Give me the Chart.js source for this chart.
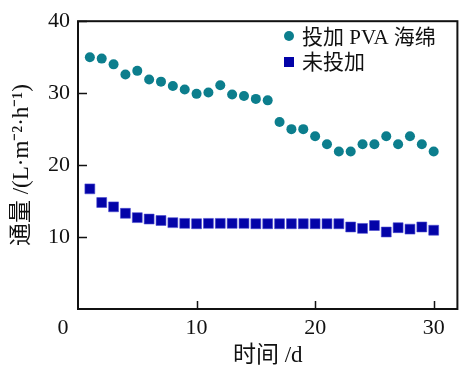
<!DOCTYPE html>
<html>
<head>
<meta charset="utf-8">
<script src="https://cdn.jsdelivr.net/npm/chart.js@4/dist/chart.umd.min.js"></script>
<style>
html,body{margin:0;padding:0;background:#fff;}
#wrap{width:465px;height:370px;position:relative;}
</style>
</head>
<body>
<div id="wrap"><canvas id="c"></canvas></div>
<script>
const days = [1,2,3,4,5,6,7,8,9,10,11,12,13,14,15,16,17,18,19,20,21,22,23,24,25,26,27,28,29,30];
const withPVA = [35.0,34.8,34.0,32.6,33.1,31.9,31.6,31.0,30.5,29.9,30.1,31.1,29.8,29.6,29.2,29.0,26.0,25.0,25.0,24.0,22.9,21.9,21.9,22.9,22.9,24.0,22.9,24.0,22.9,21.9];
const withoutPVA = [16.7,14.8,14.2,13.3,12.7,12.5,12.3,12.0,11.9,11.85,11.9,11.9,11.9,11.9,11.85,11.85,11.85,11.85,11.85,11.85,11.85,11.85,11.4,11.2,11.6,10.7,11.3,11.1,11.4,10.95];
const seriesNames = ['投加 PVA 海绵','未投加'];
const xTicks = [10,20,30];
const yTicks = [10,20,30,40];
const xTitle = '时间 /d';
const yTitle = '通量 /(L·m⁻²·h⁻¹)';
const originLabel = '0';

const FONT = "'Liberation Serif','Noto Sans CJK SC'";
const TEAL = '#0c7e8d';
const BLUE = '#0303a8';

const framePlugin = {
  id: 'frame',
  afterDraw(chart) {
    const {ctx, chartArea: a, scales: {x, y}} = chart;
    ctx.save();
    ctx.strokeStyle = '#111';
    ctx.lineWidth = 2;
    ctx.strokeRect(a.left, a.top, a.right - a.left, a.bottom - a.top);
    ctx.lineWidth = 1.5;
    ctx.beginPath();
    xTicks.forEach(v => { const px = Math.round(x.getPixelForValue(v)) + 0.5; ctx.moveTo(px, a.bottom); ctx.lineTo(px, a.bottom - 8); });
    yTicks.forEach(v => { const py = Math.round(y.getPixelForValue(v)) + 0.5; ctx.moveTo(a.left, py); ctx.lineTo(a.left + 9, py); });
    ctx.stroke();
    // origin label
    ctx.fillStyle = '#111';
    ctx.font = "22px " + FONT;
    ctx.textAlign = 'center';
    ctx.textBaseline = 'middle';
    ctx.fillText(originLabel, a.left - 15, a.bottom + 19);
    // legend
    const ds = chart.data.datasets;
    ctx.font = "21px " + FONT;
    ctx.textAlign = 'left';
    const lx = 289, ly0 = 37, dy = 25;
    ds.forEach((d, i) => {
      const yy = ly0 + i * dy;
      ctx.fillStyle = d.backgroundColor;
      if (d.pointStyle === 'rect') {
        ctx.fillRect(lx - 5, yy - 5, 10, 10);
      } else {
        ctx.beginPath(); ctx.arc(lx, yy - 1, 5, 0, Math.PI * 2); ctx.fill();
      }
      ctx.fillStyle = '#111';
      ctx.fillText(d.label, lx + 13, yy + 1);
    });
    ctx.restore();
  }
};

new Chart(document.getElementById('c'), {
  type: 'scatter',
  data: {
    datasets: [
      { label: seriesNames[0], data: days.map((d, i) => ({x: d, y: withPVA[i]})), backgroundColor: TEAL, borderColor: TEAL, borderWidth: 0, pointStyle: 'circle', pointRadius: 5 },
      { label: seriesNames[1], data: days.map((d, i) => ({x: d, y: withoutPVA[i]})), backgroundColor: BLUE, borderColor: '#4a4ad0', borderWidth: 0.6, pointStyle: 'rect', pointRadius: 7 }
    ]
  },
  options: {
    responsive: true,
    maintainAspectRatio: false,
    animation: false,
    devicePixelRatio: 1,
    layout: { padding: { top: 14, right: 7, left: 0, bottom: 0 } },
    plugins: { legend: { display: false }, tooltip: { enabled: false } },
    scales: {
      x: {
        type: 'linear', min: 0, max: 32,
        afterBuildTicks(s) { s.ticks = xTicks.map(v => ({value: v})); },
        afterFit(s) { s.height = 61; },
        grid: { display: false, drawTicks: false },
        border: { display: false },
        ticks: { color: '#111', font: { family: FONT, size: 22 }, padding: 6, maxRotation: 0 },
        title: { display: true, text: xTitle, color: '#111', font: { family: FONT, size: 23 }, padding: { top: 2, bottom: 0 } }
      },
      y: {
        type: 'linear', min: 0, max: 40,
        afterBuildTicks(s) { s.ticks = yTicks.map(v => ({value: v})); },
        afterFit(s) { s.width = 78; },
        grid: { display: false, drawTicks: false },
        border: { display: false },
        ticks: { color: '#111', font: { family: FONT, size: 22 }, padding: 8 },
        title: { display: true, text: yTitle, color: '#111', font: { family: FONT, size: 23 }, padding: { top: 8, bottom: 4 } }
      }
    }
  },
  plugins: [framePlugin]
});
</script>
</body>
</html>
